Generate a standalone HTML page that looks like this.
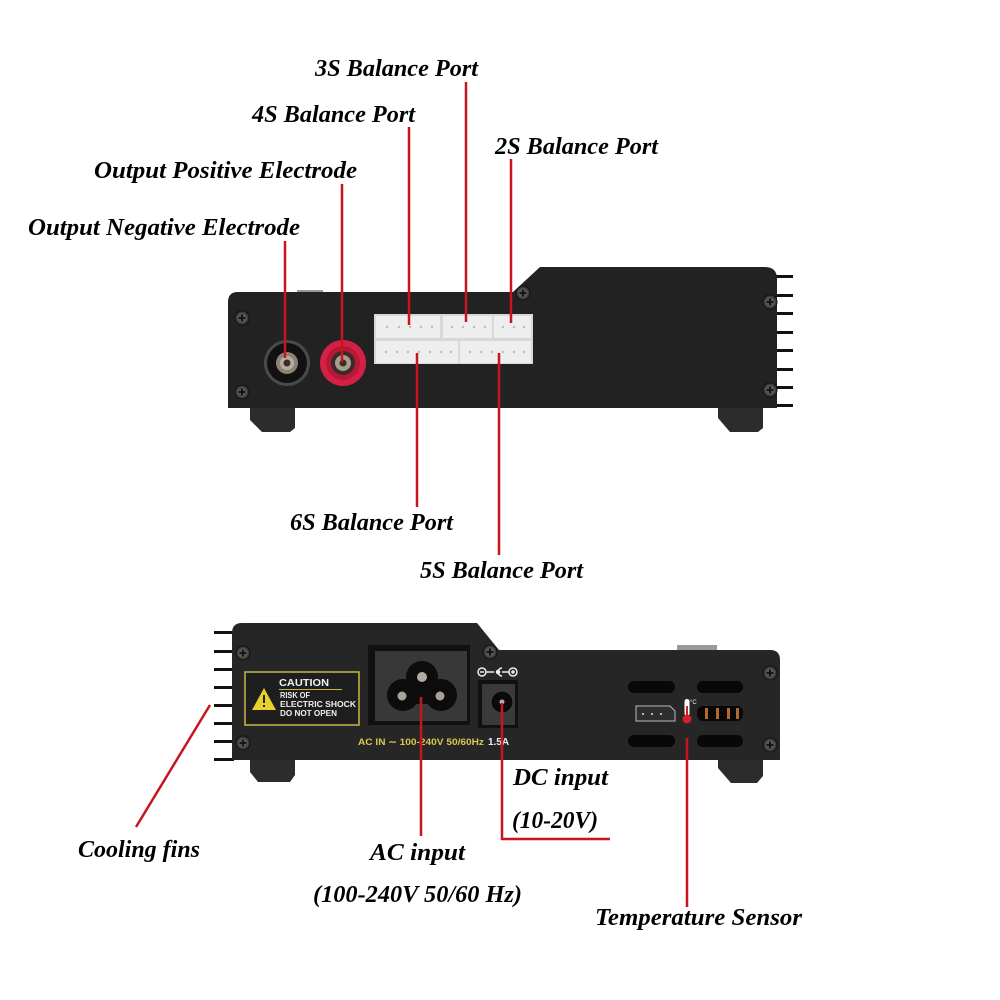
<!DOCTYPE html>
<html><head><meta charset="utf-8"><style>
html,body{margin:0;padding:0;background:#fff;}
svg{display:block;}
.lbl{font-family:"Liberation Serif",serif;font-weight:bold;font-style:italic;font-size:24px;fill:#000;}
.rl{stroke:#c8141e;stroke-width:2.5;fill:none;}
</style></head><body>
<svg width="1000" height="1000" viewBox="0 0 1000 1000" xmlns="http://www.w3.org/2000/svg">
<defs>
<g id="screw">
<circle r="7" fill="#3a3a3a" stroke="#111" stroke-width="1"/>
<circle r="5" fill="#555"/>
<path d="M-3.5,0H3.5M0,-3.5V3.5" stroke="#111" stroke-width="1.8"/>
</g>
</defs>
<rect width="1000" height="1000" fill="#fff"/>

<!-- ===== TOP DEVICE ===== -->
<!-- fins right -->
<g fill="#111">
<rect x="775" y="275" width="18" height="3"/>
<rect x="775" y="294" width="18" height="3"/>
<rect x="775" y="312" width="18" height="3"/>
<rect x="775" y="331" width="18" height="3"/>
<rect x="775" y="349" width="18" height="3"/>
<rect x="775" y="368" width="18" height="3"/>
<rect x="775" y="386" width="18" height="3"/>
<rect x="775" y="404" width="18" height="3"/>
</g>
<!-- metal bump -->
<rect x="297" y="290" width="26" height="6" fill="#9a9a9a"/>
<!-- feet -->
<path d="M250,405 L295,405 L295,428 L290,432 L262,432 L250,420 Z" fill="#2c2c2c"/>
<path d="M718,405 L763,405 L763,428 L758,432 L730,432 L718,418 Z" fill="#2c2c2c"/>
<!-- body -->
<path d="M238,292 L513,292 L540,267 L765,267 Q777,267 777,279 L777,408 L228,408 L228,302 Q228,292 238,292 Z" fill="#222"/>
<!-- connectors -->
<rect x="374" y="314" width="159" height="50" fill="#d8d8d8"/>
<g fill="#eeeeee">
<rect x="376" y="316" width="64" height="22"/>
<rect x="443" y="316" width="49" height="22"/>
<rect x="494" y="316" width="37" height="22"/>
<rect x="376" y="341" width="82" height="22"/>
<rect x="460" y="341" width="71" height="22"/>
</g>
<g fill="#bbb">
<circle cx="387" cy="327" r="1.2"/><circle cx="399" cy="327" r="1.2"/><circle cx="410" cy="327" r="1.2"/><circle cx="421" cy="327" r="1.2"/><circle cx="432" cy="327" r="1.2"/>
<circle cx="452" cy="327" r="1.2"/><circle cx="463" cy="327" r="1.2"/><circle cx="474" cy="327" r="1.2"/><circle cx="485" cy="327" r="1.2"/>
<circle cx="503" cy="327" r="1.2"/><circle cx="514" cy="327" r="1.2"/><circle cx="524" cy="327" r="1.2"/>
<circle cx="386" cy="352" r="1.2"/><circle cx="397" cy="352" r="1.2"/><circle cx="408" cy="352" r="1.2"/><circle cx="419" cy="352" r="1.2"/><circle cx="430" cy="352" r="1.2"/><circle cx="441" cy="352" r="1.2"/><circle cx="451" cy="352" r="1.2"/>
<circle cx="470" cy="352" r="1.2"/><circle cx="481" cy="352" r="1.2"/><circle cx="492" cy="352" r="1.2"/><circle cx="503" cy="352" r="1.2"/><circle cx="514" cy="352" r="1.2"/><circle cx="524" cy="352" r="1.2"/>
</g>
<!-- black jack -->
<circle cx="287" cy="363" r="23" fill="#4a4a4a"/>
<circle cx="287" cy="363" r="20" fill="#111"/>
<circle cx="287" cy="363" r="11" fill="#8c8276"/>
<circle cx="287" cy="363" r="7" fill="#b8ada0"/>
<circle cx="287" cy="363" r="3.5" fill="#3a2e24"/>
<!-- red jack -->
<circle cx="343" cy="363" r="23" fill="#d42045"/>
<circle cx="343" cy="363" r="17" fill="#b81838"/>
<circle cx="343" cy="363" r="12" fill="#3a2a2a"/>
<circle cx="343" cy="363" r="8" fill="#a89c8c"/>
<circle cx="343" cy="363" r="3.5" fill="#3a2e24"/>
<!-- screws top -->
<use href="#screw" x="242" y="318"/>
<use href="#screw" x="242" y="392"/>
<use href="#screw" x="523" y="293"/>
<use href="#screw" x="770" y="302"/>
<use href="#screw" x="770" y="390"/>

<!-- ===== BOTTOM DEVICE ===== -->
<g fill="#111">
<rect x="214" y="631" width="20" height="3"/>
<rect x="214" y="650" width="20" height="3"/>
<rect x="214" y="668" width="20" height="3"/>
<rect x="214" y="686" width="20" height="3"/>
<rect x="214" y="704" width="20" height="3"/>
<rect x="214" y="722" width="20" height="3"/>
<rect x="214" y="740" width="20" height="3"/>
<rect x="214" y="758" width="20" height="3"/>
</g>
<rect x="677" y="645" width="40" height="7" fill="#9a9a9a"/>
<path d="M250,758 L295,758 L295,775 L290,782 L258,782 L250,772 Z" fill="#2c2c2c"/>
<path d="M718,758 L763,758 L763,776 L757,783 L731,783 L718,768 Z" fill="#2c2c2c"/>
<path d="M242,623 L477,623 L499,650 L770,650 Q780,650 780,660 L780,760 L232,760 L232,633 Q232,623 242,623 Z" fill="#262626"/>
<!-- caution label -->
<rect x="245" y="672" width="114" height="53" fill="#1e1e1e" stroke="#c9b646" stroke-width="1.5"/>
<path d="M264,688 L276,710 L252,710 Z" fill="#e6d12e"/>
<rect x="263" y="695" width="2" height="8" fill="#222"/>
<rect x="263" y="705" width="2" height="2" fill="#222"/>
<text x="279" y="686" font-family="Liberation Sans,sans-serif" font-weight="bold" font-size="10" fill="#f0f0f0" textLength="50" lengthAdjust="spacingAndGlyphs">CAUTION</text>
<line x1="279" y1="689.5" x2="342" y2="689.5" stroke="#c9b646" stroke-width="1"/>
<text font-family="Liberation Sans,sans-serif" font-weight="bold" font-size="8" fill="#f0f0f0">
<tspan x="280" y="698" textLength="30" lengthAdjust="spacingAndGlyphs">RISK OF</tspan>
<tspan x="280" y="707" textLength="76" lengthAdjust="spacingAndGlyphs">ELECTRIC SHOCK</tspan>
<tspan x="280" y="716" textLength="57" lengthAdjust="spacingAndGlyphs">DO NOT OPEN</tspan>
</text>
<!-- AC recess -->
<rect x="368" y="645" width="102" height="80" fill="#111"/>
<rect x="375" y="651" width="92" height="70" fill="#383838"/>
<g fill="#0c0c0c">
<circle cx="422" cy="677" r="16"/>
<circle cx="403" cy="695" r="16"/>
<circle cx="441" cy="695" r="16"/>
<rect x="405" y="680" width="34" height="24"/>
</g>
<circle cx="422" cy="677" r="5" fill="#b0aaa2"/>
<circle cx="402" cy="696" r="4.5" fill="#a8a29a"/>
<circle cx="440" cy="696" r="4.5" fill="#a8a29a"/>
<text x="358" y="745" font-family="Liberation Sans,sans-serif" font-weight="bold" font-size="9.5" fill="#d8c850" textLength="126" lengthAdjust="spacingAndGlyphs">AC IN ∼ 100-240V  50/60Hz</text>
<text x="488" y="745" font-family="Liberation Sans,sans-serif" font-weight="bold" font-size="10" fill="#eee" textLength="21" lengthAdjust="spacingAndGlyphs">1.5A</text>
<!-- DC -->
<g stroke="#eee" stroke-width="1.5" fill="none">
<circle cx="482" cy="672" r="4"/>
<line x1="486" y1="672" x2="494" y2="672"/>
<path d="M502,668 A4,4 0 1 0 502,676"/>
<circle cx="498" cy="672" r="1.5" fill="#eee"/>
<line x1="502" y1="672" x2="509" y2="672"/>
<circle cx="513" cy="672" r="4"/>
<line x1="480" y1="672" x2="484" y2="672"/>
<line x1="511" y1="672" x2="515" y2="672"/>
<line x1="513" y1="670" x2="513" y2="674"/>
</g>
<rect x="478" y="680" width="40" height="48" fill="#111"/>
<rect x="482" y="684" width="33" height="41" fill="#3a3a3a"/>
<circle cx="502" cy="702" r="11" fill="#0a0a0a" stroke="#444" stroke-width="1"/>
<circle cx="502" cy="702" r="2.5" fill="#b8ada0"/>
<!-- vents -->
<g fill="#080808">
<rect x="628" y="681" width="47" height="12" rx="6"/>
<rect x="697" y="681" width="46" height="12" rx="6"/>
<rect x="628" y="735" width="47" height="12" rx="6"/>
<rect x="697" y="735" width="46" height="12" rx="6"/>
<rect x="697" y="706" width="46" height="15" rx="6"/>
</g>
<path d="M636,706 L670,706 L675,711 L675,721 L636,721 Z" fill="#2e2e2e" stroke="#bbb" stroke-width="1"/>
<g fill="#ddd"><circle cx="643" cy="714" r="1"/><circle cx="652" cy="714" r="1"/><circle cx="661" cy="714" r="1"/></g>
<g fill="#b06a30"><rect x="705" y="708" width="3" height="11"/><rect x="716" y="708" width="3" height="11"/><rect x="727" y="708" width="3" height="11"/><rect x="736" y="708" width="3" height="11"/></g>
<!-- thermometer -->
<rect x="684.5" y="699" width="5" height="17" rx="2.5" fill="#fff"/>
<rect x="686" y="706" width="2" height="12" fill="#d0202a"/>
<circle cx="687" cy="719" r="4.5" fill="#d0202a"/>
<text x="690" y="704" font-family="Liberation Sans,sans-serif" font-size="6" fill="#eee">°C</text>
<!-- screws bottom -->
<use href="#screw" x="243" y="653"/>
<use href="#screw" x="243" y="743"/>
<use href="#screw" x="490" y="652"/>
<use href="#screw" x="770" y="673"/>
<use href="#screw" x="770" y="745"/>

<!-- ===== RED LEADER LINES ===== -->
<line class="rl" x1="466" y1="82" x2="466" y2="322"/>
<line class="rl" x1="409" y1="127" x2="409" y2="325"/>
<line class="rl" x1="342" y1="184" x2="342" y2="362"/>
<line class="rl" x1="285" y1="241" x2="285" y2="358"/>
<line class="rl" x1="511" y1="159" x2="511" y2="323"/>
<line class="rl" x1="417" y1="353" x2="417" y2="507"/>
<line class="rl" x1="499" y1="353" x2="499" y2="555"/>
<line class="rl" x1="136" y1="827" x2="210" y2="705"/>
<line class="rl" x1="421" y1="697" x2="421" y2="836"/>
<polyline class="rl" points="502,703 502,839 610,839"/>
<line class="rl" x1="687" y1="738" x2="687" y2="907"/>

<!-- ===== LABELS ===== -->
<text class="lbl" x="315" y="76" textLength="163" lengthAdjust="spacingAndGlyphs">3S Balance Port</text>
<text class="lbl" x="252" y="122" textLength="163" lengthAdjust="spacingAndGlyphs">4S Balance Port</text>
<text class="lbl" x="495" y="154" textLength="163" lengthAdjust="spacingAndGlyphs">2S Balance Port</text>
<text class="lbl" x="94" y="178" textLength="263" lengthAdjust="spacingAndGlyphs">Output Positive Electrode</text>
<text class="lbl" x="28" y="235" textLength="272" lengthAdjust="spacingAndGlyphs">Output Negative Electrode</text>
<text class="lbl" x="290" y="530" textLength="163" lengthAdjust="spacingAndGlyphs">6S Balance Port</text>
<text class="lbl" x="420" y="578" textLength="163" lengthAdjust="spacingAndGlyphs">5S Balance Port</text>
<text class="lbl" x="513" y="785" textLength="95" lengthAdjust="spacingAndGlyphs">DC input</text>
<text class="lbl" x="512" y="828" textLength="86" lengthAdjust="spacingAndGlyphs">(10-20V)</text>
<text class="lbl" x="78" y="857" textLength="122" lengthAdjust="spacingAndGlyphs">Cooling fins</text>
<text class="lbl" x="370" y="860" textLength="95" lengthAdjust="spacingAndGlyphs">AC input</text>
<text class="lbl" x="313" y="902" textLength="209" lengthAdjust="spacingAndGlyphs">(100-240V 50/60 Hz)</text>
<text class="lbl" x="595" y="925" textLength="207" lengthAdjust="spacingAndGlyphs">Temperature Sensor</text>
</svg>
</body></html>
